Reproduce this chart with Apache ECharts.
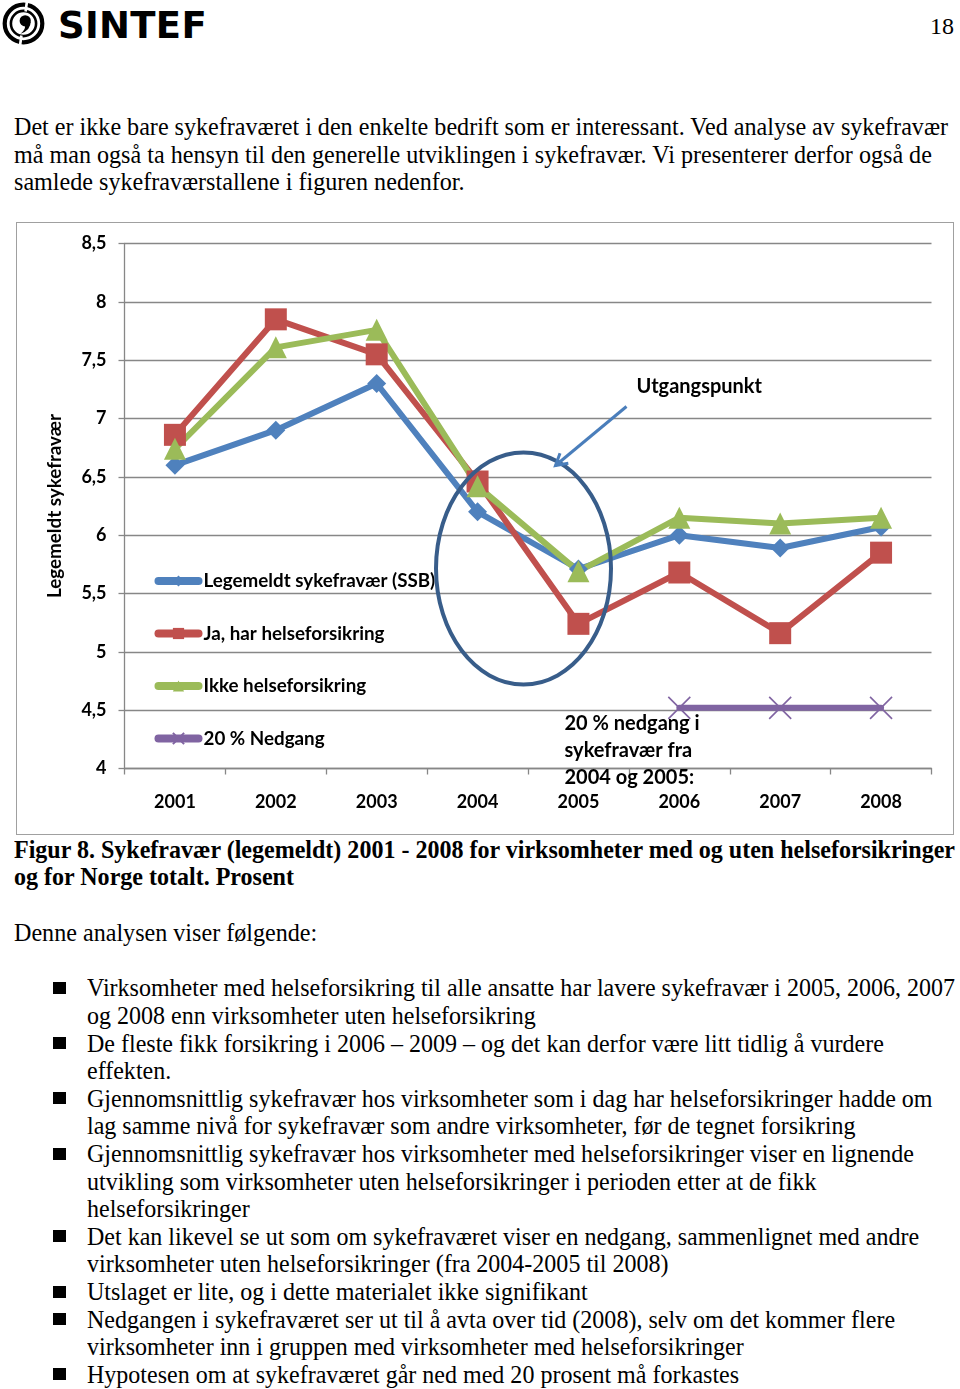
<!DOCTYPE html>
<html>
<head>
<meta charset="utf-8">
<script src="https://cdn.jsdelivr.net/npm/echarts@6.0.0/dist/echarts.min.js"></script>
<style>
  html, body { margin:0; padding:0; background:#fff; }
  body { width:960px; height:1389px; position:relative; overflow:hidden; }
  .t { position:absolute; white-space:nowrap; font-family:'Liberation Serif','Times New Roman',serif;
       font-size:25.5px; line-height:28px; height:28px; color:#000; transform-origin:0 0; }
  .b { font-weight:bold; }
  .sq { position:absolute; width:13px; height:12px; background:#000; }
  #frame { position:absolute; left:16px; top:222px; width:938px; height:613px;
           border:1.5px solid #a0a0a0; box-sizing:border-box; }
  #chart { position:absolute; left:0; top:0; width:935px; height:610px; }
  #brand { position:absolute; left:58px; top:6px; font-family:'DejaVu Sans',sans-serif; font-weight:bold;
           font-size:37px; line-height:40px; letter-spacing:0.3px; color:#000; }
</style>
</head>
<body>
<svg style="position:absolute;left:0;top:0" width="50" height="48" viewBox="0 0 50 48">
  <circle cx="23.5" cy="23.5" r="18.8" fill="none" stroke="#000" stroke-width="4.2"/>
  <circle cx="23.5" cy="23.5" r="12.6" fill="none" stroke="#000" stroke-width="2.6"/>
  <line x1="27" y1="1" x2="25.6" y2="11.5" stroke="#fff" stroke-width="2.6"/>
  <line x1="21.4" y1="35.5" x2="20" y2="46" stroke="#fff" stroke-width="2.6"/>
  <circle cx="25.2" cy="20.8" r="5.6" fill="#000"/>
  <path d="M30.6 21.5 Q31 30 20.5 33.8 Q25.5 29.5 25 26.2 Z" fill="#000"/>
</svg>
<div id="brand">SINTEF</div>
<div class="t" id="pnum" style="left:930px;top:12px;font-size:24px;">18</div>

<div id="frame"><div id="chart"></div></div>

<div id="text"></div>

<script>
// ---------- chart data ----------
const years = ['2001', '2002', '2003', '2004', '2005', '2006', '2007', '2008'];
const seriesNames = ['Legemeldt sykefravær (SSB)', 'Ja, har helseforsikring', 'Ikke helseforsikring', '20 % Nedgang'];
const ssb = [6.6, 6.9, 7.3, 6.2, 5.71, 6.0, 5.89, 6.07];
const medForsikring = [6.86, 7.85, 7.55, 6.46, 5.24, 5.68, 5.16, 5.85];
const ikkeForsikring = [6.74, 7.61, 7.76, 6.42, 5.69, 6.15, 6.1, 6.15];
const nedgang20 = [null, null, null, null, null, 4.52, 4.52, 4.52];
const yMin = 4, yMax = 8.5, yStep = 0.5;
const yAxisTitle = 'Legemeldt sykefravær';
const noteStart = 'Utgangspunkt';
const noteDrop = '20 % nedgang i\nsykefravær fra\n2004 og 2005:';

// ---------- page text ----------
const paraLines = [
  'Det er ikke bare sykefraværet i den enkelte bedrift som er interessant. Ved analyse av sykefravær',
  'må man også ta hensyn til den generelle utviklingen i sykefravær. Vi presenterer derfor også de',
  'samlede sykefraværstallene i figuren nedenfor.'
];
const captionLines = [
  'Figur 8. Sykefravær (legemeldt) 2001 - 2008 for virksomheter med og uten helseforsikringer',
  'og for Norge totalt. Prosent'
];
const introLine = 'Denne analysen viser følgende:';
const bullets = [
  ['Virksomheter med helseforsikring til alle ansatte har lavere sykefravær i 2005, 2006, 2007',
   'og 2008 enn virksomheter uten helseforsikring'],
  ['De fleste fikk forsikring i 2006 – 2009 – og det kan derfor være litt tidlig å vurdere',
   'effekten.'],
  ['Gjennomsnittlig sykefravær hos virksomheter som i dag har helseforsikringer hadde om',
   'lag samme nivå for sykefravær som andre virksomheter, før de tegnet forsikring'],
  ['Gjennomsnittlig sykefravær hos virksomheter med helseforsikringer viser en lignende',
   'utvikling som virksomheter uten helseforsikringer i perioden etter at de fikk',
   'helseforsikringer'],
  ['Det kan likevel se ut som om sykefraværet viser en nedgang, sammenlignet med andre',
   'virksomheter uten helseforsikringer (fra 2004-2005 til 2008)'],
  ['Utslaget er lite, og i dette materialet ikke signifikant'],
  ['Nedgangen i sykefraværet ser ut til å avta over tid (2008), selv om det kommer flere',
   'virksomheter inn i gruppen med virksomheter med helseforsikringer'],
  ['Hypotesen om at sykefraværet går ned med 20 prosent må forkastes']
];

// ---------- build page text ----------
const host = document.getElementById('text');
const FS = 25.5, LH = 28;
const BASE = (LH - 1.107 * FS) / 2 + 0.891 * FS; // baseline offset within the line box
function addLine(txt, x, baseline, bold) {
  const d = document.createElement('div');
  d.className = 't' + (bold ? ' b' : '');
  d.style.left = x + 'px';
  d.style.top = (baseline - BASE) + 'px';
  d.textContent = txt;
  host.appendChild(d);
  return d;
}
function fit(els, target) {
  const w = els[0].getBoundingClientRect().width;
  const k = target / w;
  els.forEach(e => e.style.transform = 'scaleX(' + k + ')');
}
const paraEls = paraLines.map((l, i) => addLine(l, 14, 136 + i * 27.5, false));
const capEls = captionLines.map((l, i) => addLine(l, 14, 858.5 + i * 27.5, true));
const introEl = addLine(introLine, 14, 941.5, false);
const bulEls = [];
let k = 0;
bullets.forEach(b => {
  b.forEach((l, j) => {
    const base = 997 + k * 27.6;
    if (j === 0) {
      const s = document.createElement('div');
      s.className = 'sq';
      s.style.left = '53px';
      s.style.top = (base - 15) + 'px';
      host.appendChild(s);
    }
    bulEls.push(addLine(l, 87, base, false));
    k++;
  });
});
fit(paraEls.concat([introEl]), 934);
fit(capEls, 941);
fit(bulEls, 868);

// ---------- chart ----------
const lbl = { fontFamily: 'Lato', fontWeight: 'bold', fontSize: 18, color: '#000' };
const gridColor = '#878787';
function lineSeries(name, data, color, symbol, size, extra) {
  return Object.assign({
    name: name, type: 'line', data: data, symbol: symbol, symbolSize: size,
    connectNulls: false,
    lineStyle: { color: color, width: 6, cap: 'round', join: 'round' },
    itemStyle: { color: color },
    emphasis: { disabled: true }
  }, extra || {});
}
// arrow geometry for annotation
const ax1 = 609.5, ay1 = 183.5, ax2 = 538.5, ay2 = 242.5;
const L = Math.hypot(ax2 - ax1, ay2 - ay1), ux = (ax2 - ax1) / L, uy = (ay2 - ay1) / L;
const wing = 13, ang = Math.PI / 6;
function rot(x, y, a) { return [x * Math.cos(a) - y * Math.sin(a), x * Math.sin(a) + y * Math.cos(a)]; }
const w1 = rot(ux, uy, ang), w2 = rot(ux, uy, -ang);

const chart = echarts.init(document.getElementById('chart'), null, { renderer: 'canvas' });
chart.setOption({
  animation: false,
  backgroundColor: '#fff',
  grid: { left: 107.5, right: 20.5, top: 20.5, bottom: 64.5 },
  xAxis: {
    type: 'category', data: years, boundaryGap: true,
    axisLine: { lineStyle: { color: gridColor, width: 1.3 } },
    axisTick: { show: true, interval: 0, length: 6, lineStyle: { color: gridColor, width: 1.3 } },
    axisLabel: Object.assign({ margin: 25, interval: 0 }, lbl)
  },
  yAxis: {
    type: 'value', min: yMin, max: yMax, interval: yStep,
    name: yAxisTitle, nameLocation: 'middle', nameRotate: 90, nameGap: 60,
    nameTextStyle: Object.assign({}, lbl, { fontSize: 18.8 }),
    axisLine: { show: true, lineStyle: { color: gridColor, width: 1.3 } },
    axisTick: { show: true, length: 6, lineStyle: { color: gridColor, width: 1.3 } },
    splitLine: { show: true, lineStyle: { color: gridColor, width: 1.3 } },
    axisLabel: Object.assign({ margin: 18, formatter: v => String(v).replace('.', ',') }, lbl)
  },
  legend: {
    orient: 'vertical', left: 137.5, top: 348, padding: 0,
    itemWidth: 40, itemHeight: 14, itemGap: 32.5,
    lineStyle: { width: 8, cap: 'round' },
    textStyle: Object.assign({}, lbl, { fontSize: 18.8, lineHeight: 20 }),
    data: seriesNames, selectedMode: false
  },
  series: [
    lineSeries(seriesNames[0], ssb, '#4F81BD', 'diamond', 19),
    lineSeries(seriesNames[1], medForsikring, '#C0504D', 'rect', 22),
    lineSeries(seriesNames[2], ikkeForsikring, '#9BBB59', 'triangle', 22),
    lineSeries(seriesNames[3], nedgang20, '#8064A2', 'path://M0,0L10,10M10,0L0,10', 22, {
      itemStyle: { color: 'rgba(0,0,0,0)', borderColor: '#8064A2', borderWidth: 1.6 }
    })
  ],
  graphic: [
    { type: 'ellipse', z: 100, shape: { cx: 506.5, cy: 345.5, rx: 87.5, ry: 116 },
      style: { fill: 'none', stroke: '#385D8A', lineWidth: 4 } },
    { type: 'line', z: 100, shape: { x1: ax1, y1: ay1, x2: ax2, y2: ay2 },
      style: { stroke: '#4A7EBB', lineWidth: 3 } },
    { type: 'polyline', z: 100,
      shape: { points: [[ax2 - wing * w1[0], ay2 - wing * w1[1]], [ax2, ay2], [ax2 - wing * w2[0], ay2 - wing * w2[1]]] },
      style: { stroke: '#4A7EBB', lineWidth: 3, fill: 'none' } },
    { type: 'text', z: 100, x: 619.5, y: 163.5,
      style: { text: noteStart, font: 'bold 20px Lato', fill: '#000', verticalAlign: 'middle' } },
    { type: 'text', z: 100, x: 547.5, y: 487,
      style: { text: noteDrop, font: 'bold 20px Lato', lineHeight: 27, fill: '#000', verticalAlign: 'top' } }
  ]
});
</script>
</body>
</html>
